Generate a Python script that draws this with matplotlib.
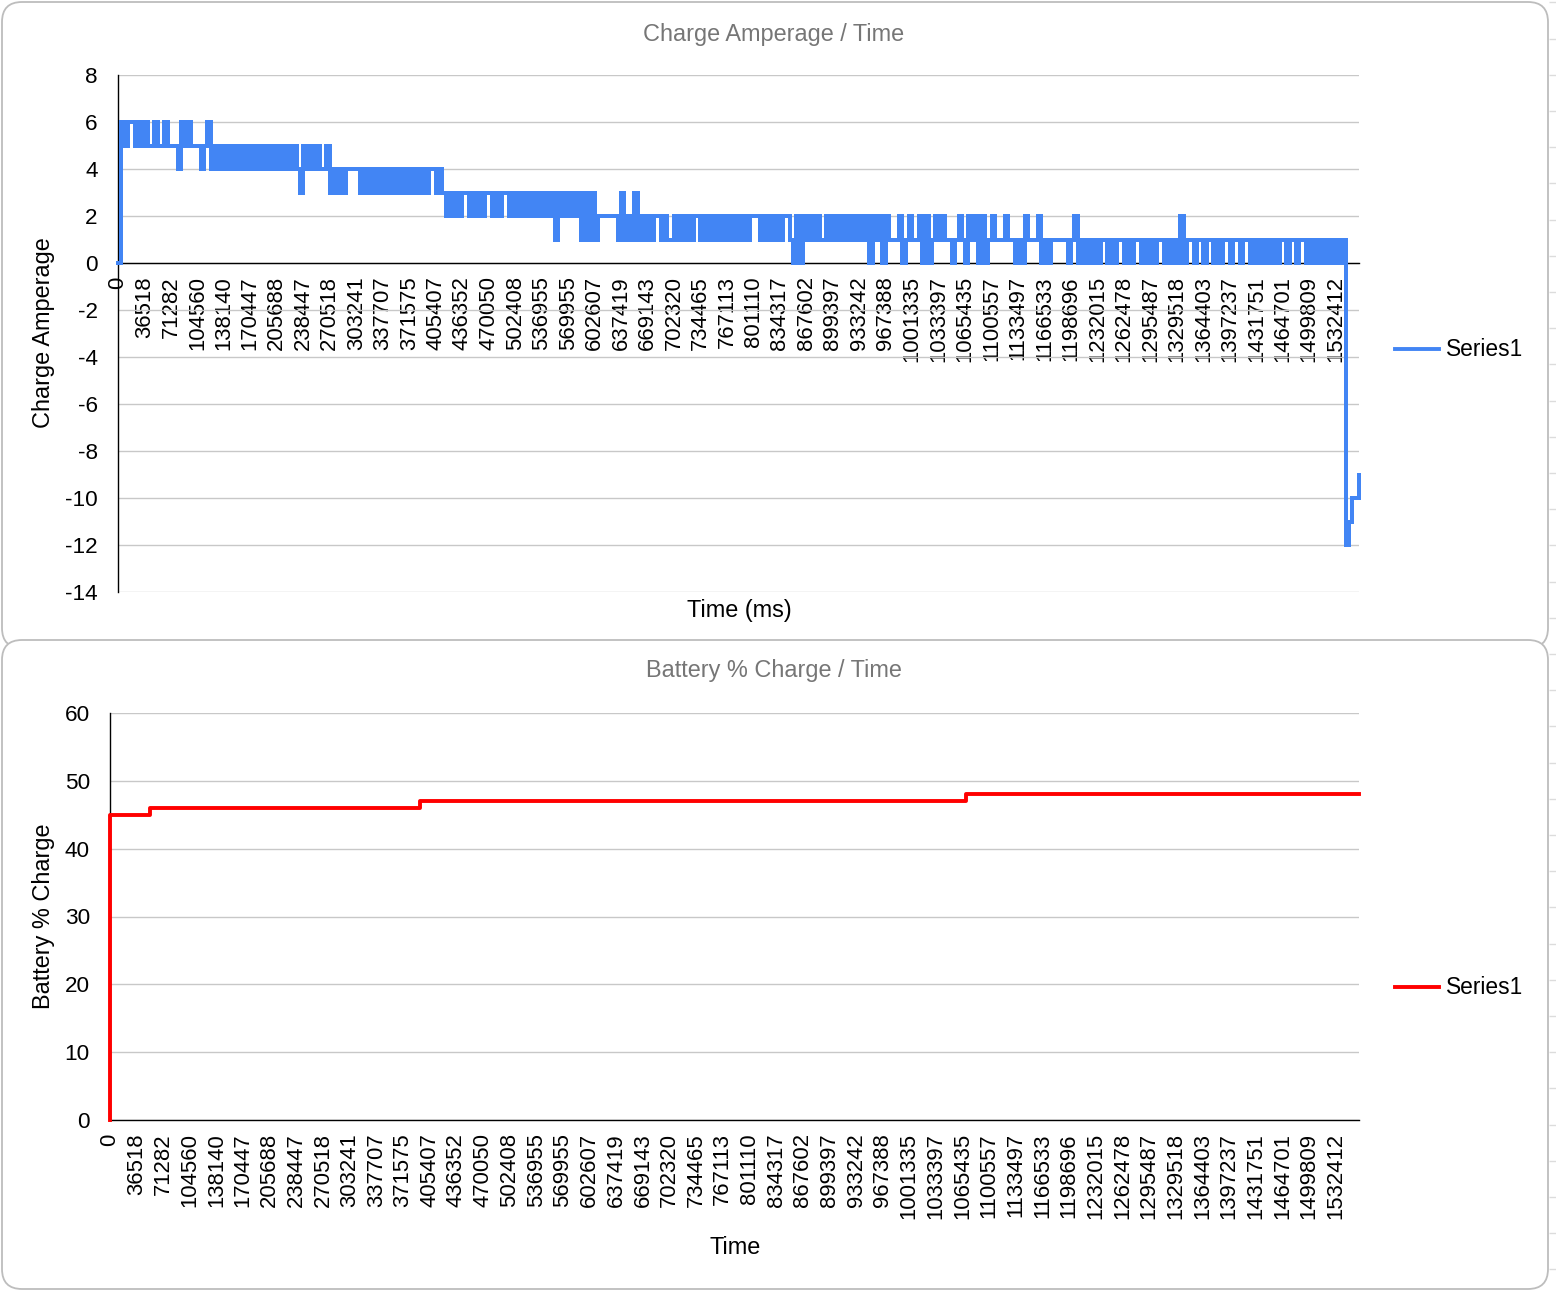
import numpy as np
import matplotlib
matplotlib.use("Agg")
import matplotlib.pyplot as plt
from matplotlib.patches import FancyBboxPatch

plt.rcParams['font.family'] = ['Liberation Sans', 'DejaVu Sans']
plt.rcParams['axes.unicode_minus'] = False
plt.rcParams['path.simplify'] = False

# ---------------- data ----------------
# category-axis tick labels (time in ms), one label every 8 samples
time_labels = ["0", "36518", "71282", "104560", "138140", "170447", "205688",
               "238447", "270518", "303241", "337707", "371575", "405407",
               "436352", "470050", "502408", "536955", "569955", "602607",
               "637419", "669143", "702320", "734465", "767113", "801110",
               "834317", "867602", "899397", "933242", "967388", "1001335",
               "1033397", "1065435", "1100557", "1133497", "1166533",
               "1198696", "1232015", "1262478", "1295487", "1329518",
               "1364403", "1397237", "1431751", "1464701", "1499809",
               "1532412"]
label_step = 8

# charge amperage samples (one digit per sample, values 0..6)
amp_digits = (
    "0656656565" "5655655546" "5655545645" "4545454545" "4545454545"
    "4545435454" "5445343434" "4443434343" "4343434343" "4343443432"
    "3232332323" "2332323323" "2323232323" "2313232323" "1313122222"
    "2131213121" "2122121121" "2121221212" "1212121212" "1222121212"
    "1221020212" "1211212121" "2121212021" "2021112012" "1120201212"
    "1101210212" "0201211121" "1010211120" "1011111012" "0101010110"
    "1011010110" "1010110101" "0201101101" "1010110110" "1101010101"
    "0110110110" "10101010101"
)
amp_tail = [-12, -11, -10, -10, -9]
amp = [int(c) for c in amp_digits] + amp_tail

# battery % charge: levels and how many samples stay at each level
batt_levels = [0, 45, 46, 47, 48]
batt_runs = [1, 12, 81, 164, 118]
batt = np.repeat(batt_levels, batt_runs)

amp_yticks = list(range(-14, 9, 2))
batt_yticks = list(range(0, 61, 10))

# ---------------- figure ----------------
W, H = 1556, 1292
fig = plt.figure(figsize=(W / 100, H / 100), dpi=100)
fig.patch.set_facecolor('white')

# background panels (pixel coordinates)
bg = fig.add_axes([0, 0, 1, 1], zorder=-10)
bg.set_xlim(0, W)
bg.set_ylim(H, 0)
bg.axis('off')
bg.hlines(np.arange(2.4, H, 36.2), 1549, W, color='#dcdcdc', lw=1)
for (x0, y0, w, h) in [(2, 2, 1546, 646), (2, 640, 1546, 649)]:
    bg.add_patch(FancyBboxPatch((x0, y0), w, h,
                                boxstyle="round,pad=0,rounding_size=20",
                                ec='#bdbdbd', fc='white', lw=1.3))

BLUE = '#4285F4'
RED = '#FF0000'
GRID = '#c8c8c8'
FS_X = 15.9
FS_Y = 16.2
FS_T = 16.9
FS_A = 16.9
FS_L = 16.4
LW = 2.8


def px_axes(left, top, right, bottom):
    return fig.add_axes([left / W, 1 - bottom / H, (right - left) / W,
                         (bottom - top) / H])


def style(ax, yticks):
    for s in ('top', 'right'):
        ax.spines[s].set_visible(False)
    for s in ('left', 'bottom'):
        ax.spines[s].set_color('black')
        ax.spines[s].set_linewidth(1.0)
    ax.set_yticks(yticks)
    ax.set_yticklabels([str(v) for v in yticks])
    ax.yaxis.grid(True, color=GRID, lw=1.0)
    ax.set_axisbelow(True)
    ax.set_xticks(np.arange(len(time_labels)) * label_step)
    ax.set_xticklabels(time_labels, rotation=90, ha='center', va='top')
    ax.tick_params(axis='y', length=0, pad=14.5, labelsize=FS_Y, labelcolor='black')
    ax.tick_params(axis='x', length=0, pad=9.5, labelsize=FS_X, labelcolor='black')


# ---- top chart ----
ax1 = px_axes(118, 75, 1359, 592)
x1 = np.arange(len(amp))
ax1.plot(x1, amp, color=BLUE, lw=LW, drawstyle='steps-post', zorder=3,
         clip_on=False, antialiased=False, label='Series1')
ax1.set_xlim(0, len(amp) - 1)
ax1.set_ylim(-14, 8)
ax1.spines['bottom'].set_position(('data', 0))
style(ax1, amp_yticks)
ax1.legend(loc='center left', bbox_to_anchor=(1395 / W, 1 - 350 / H),
           bbox_transform=fig.transFigure, frameon=False, fontsize=FS_L,
           handlelength=1.95, handletextpad=0.27, borderpad=0, borderaxespad=0)

fig.text(774 / W, 1 - 34 / H, "Charge Amperage / Time", ha='center',
         va='center', fontsize=FS_T, color='#767676')
fig.text(44 / W, 1 - 333 / H, "Charge Amperage", rotation=90, ha='center',
         va='center', fontsize=FS_A, color='black')
fig.text(739 / W, 1 - 610 / H, "Time (ms)", ha='center', va='center',
         fontsize=FS_A, color='black')

# ---- bottom chart ----
ax2 = px_axes(110, 713, 1359, 1120)
x2 = np.arange(len(batt))
ax2.plot(x2, batt, color=RED, lw=LW, drawstyle='steps-pre', zorder=3,
         clip_on=False, label='Series1')
ax2.set_xlim(0, len(batt) - 1)
ax2.set_ylim(0, 60)
style(ax2, batt_yticks)
ax2.legend(loc='center left', bbox_to_anchor=(1395 / W, 1 - 988 / H),
           bbox_transform=fig.transFigure, frameon=False, fontsize=FS_L,
           handlelength=1.95, handletextpad=0.27, borderpad=0, borderaxespad=0)

fig.text(774 / W, 1 - 671 / H, "Battery % Charge / Time", ha='center',
         va='center', fontsize=FS_T, color='#767676')
fig.text(44 / W, 1 - 916 / H, "Battery % Charge", rotation=90, ha='center',
         va='center', fontsize=FS_A, color='black')
fig.text(735 / W, 1 - 1247 / H, "Time", ha='center', va='center',
         fontsize=FS_A, color='black')

fig.savefig('out.png', dpi=100, facecolor='white')
